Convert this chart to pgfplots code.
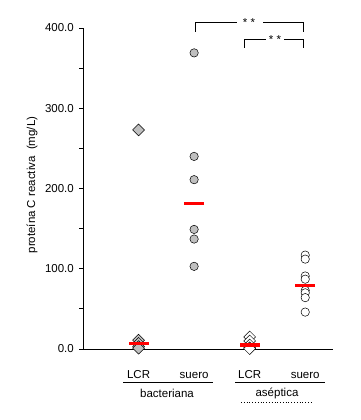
\documentclass[border=0pt]{standalone}
\usepackage{fontspec}
\setmainfont{Liberation Sans}
\usepackage{pgfplots}
\pgfplotsset{compat=1.18}
\begin{document}
\fontsize{11.5bp}{13bp}\selectfont
\begin{tikzpicture}
\path[use as bounding box] (0,0) rectangle (361bp,420bp);
\begin{axis}[
  at={(83bp,71bp)}, anchor=south west,
  scale only axis, width=250bp, height=321bp,
  xmin=0, xmax=4.5, ymin=0, ymax=400,
  axis x line=bottom, axis y line=left,
  axis line style={-, line width=0.8bp},
  xtick={1,2,3,4}, xticklabels={LCR,suero,LCR,suero},
  major x tick style={draw=none},
  xticklabel style={anchor=center, yshift=-22bp},
  ytick={0,100,200,300,400}, minor ytick={50,150,250,350},
  tick align=outside, major tick length=4bp, minor tick length=4bp,
  tick style={line width=0.8bp, black},
  yticklabel style={anchor=east, inner sep=0pt, xshift=-5bp},
  /pgf/number format/assume math mode=true,
  yticklabel={\pgfmathprintnumber[fixed, fixed zerofill, precision=1]{\tick}},
  clip=false,
]
% bacteriana LCR
\addplot[only marks, mark=square*, mark size=4.2bp, mark options={rotate=45, fill=gray!50, draw=black, line width=0.5bp}]
 coordinates {(1,273) (1,11) (1,7) (1,3) (1,1)};
% bacteriana suero
\addplot[only marks, mark=*, mark size=4.2bp, mark options={fill=gray!50, draw=black, line width=0.5bp}]
 coordinates {(2,369) (2,240) (2,211) (2,149) (2,137) (2,103)};
% aseptica LCR
\addplot[only marks, mark=square*, mark size=4.2bp, mark options={rotate=45, fill=white, draw=black, line width=0.5bp}]
 coordinates {(3,15) (3,10) (3,5) (3,1.5) (3,0.5)};
% aseptica suero
\addplot[only marks, mark=*, mark size=4.2bp, mark options={fill=white, draw=black, line width=0.5bp}]
 coordinates {(4,117) (4,112) (4,91) (4,87) (4,73) (4,70) (4,64) (4,46)};
% means
\addplot[only marks, mark=-, mark size=10bp, mark options={draw=red, line width=3.3bp}]
 coordinates {(1,7) (2,181) (3,5) (4,79)};
\end{axis}
% brackets
\draw[line width=0.8bp] (195bp,388bp) -- (195bp,398bp) -- (237bp,398bp);
\draw[line width=0.8bp] (263bp,398bp) -- (303bp,398bp) -- (303bp,388bp);
\node at (249bp,397bp) {* *};
\draw[line width=0.8bp] (244bp,372bp) -- (244bp,381bp) -- (266bp,381bp);
\draw[line width=0.8bp] (284bp,381bp) -- (303bp,381bp) -- (303bp,372bp);
\node at (275bp,380bp) {* *};
% group lines
\draw[line width=0.8bp] (123bp,38bp) -- (213bp,38bp);
\draw[line width=0.8bp] (235bp,38bp) -- (325bp,38bp);
\draw[line width=0.8bp, dotted] (241bp,18bp) -- (312bp,18bp);
\node at (167bp,27bp) {bacteriana};
\node at (277bp,27bp) {aséptica};
% y label
\node[rotate=90] at (32bp,235bp) {proteína C reactiva\ \ (mg/L)};
\end{tikzpicture}
\end{document}
